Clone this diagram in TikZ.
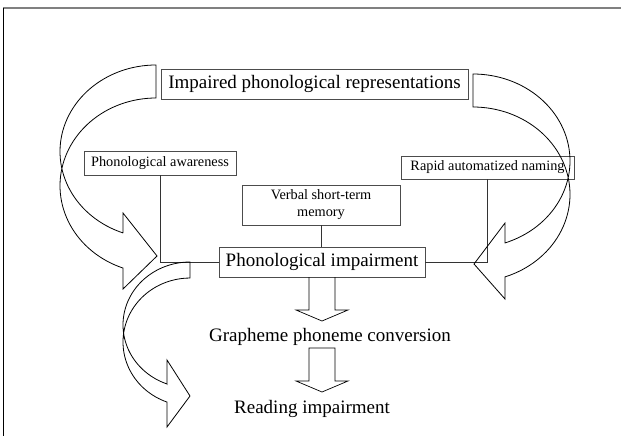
\documentclass[tikz,border=0pt]{standalone}
\usepackage{fontspec}
\setmainfont{Liberation Serif}
\begin{document}
\begin{tikzpicture}[x=1pt,y=-1pt,
  box/.style={draw=black!70, line width=0.7pt, inner sep=0pt, align=center},
  bigf/.style={font=\fontsize{19}{22}\selectfont},
  smallf/.style={font=\fontsize{14.3}{17}\selectfont},
  conn/.style={draw=black!80, line width=0.7pt},
  bigarrow/.style={draw=black, line width=0.8pt, line join=miter},
  blockarrow/.style={draw=black, line width=0.7pt}]
\useasboundingbox (0,0) rectangle (621,436);
% frame
\draw[gray, line width=1.5pt] (3,8) -- (621,8);
\draw[black, line width=0.8pt] (3,8) -- (3,436);
% nodes
\node[box, bigf, minimum width=307pt, minimum height=30pt] (IPR) at (314.5,84) {Impaired phonological representations};
\node[box, smallf, minimum width=152pt, minimum height=24pt] (PA) at (160,163) {Phonological awareness};
\node[box, smallf, minimum width=173pt, minimum height=23pt] (RAN) at (487.5,167.5) {Rapid automatized naming};
\node[box, smallf, minimum width=158pt, minimum height=40pt] (VSTM) at (321,205) {Verbal short-term\\memory};
\node[box, bigf, minimum width=206pt, minimum height=30pt] (PI) at (322,262) {Phonological impairment};
\node[bigf, anchor=base] (GPC) at (330,341) {Grapheme phoneme conversion};
\node[bigf, anchor=base] (RI) at (312,413) {Reading impairment};
% connectors
\draw[conn] (PA.south) |- (PI.west);
\draw[conn] (VSTM.south) -- (VSTM.south |- PI.north);
\draw[conn] (RAN.south) |- (PI.east);
% block arrows
\draw[blockarrow] (309,277) -- (309,310) -- (296,310) -- (322,321) -- (348,310) -- (335,310) -- (335,277);
\draw[blockarrow] (309,348) -- (309,381) -- (296,381) -- (322,392) -- (348,381) -- (335,381) -- (335,348) -- cycle;
% left curved arrow
\draw[bigarrow] (123,233)
  -- plot[domain=110.1:270, samples=60] ({156+96*cos(\x)},{151.6+86.6*sin(\x)})
  -- plot[domain=-270:-110.1, samples=60] ({156+96*cos(-\x)},{185.7+87.7*sin(-\x)})
  -- (123,289) -- (157,256) -- (123,213) -- cycle;
% right curved arrow
\draw[bigarrow] plot[domain=-90:70.7, samples=60] ({473+97*cos(\x)},{160.9+86.9*sin(\x)})
  -- (505,223) -- (474,264) -- (505,299)
  -- plot[domain=-70.7:90, samples=60] ({473+97*cos(-\x)},{194.4+87.4*sin(-\x)})
  -- cycle;
% bottom curved arrow
\draw[bigarrow] (167,384)
  -- plot[domain=110.1:270, samples=60] ({190+67*cos(\x)},{324.9+62.9*sin(\x)})
  -- plot[domain=-270:-110.1, samples=60] ({190+67*cos(-\x)},{342+63.95*sin(-\x)})
  -- (167,427) -- (190,396) -- (167,360) -- cycle;
\end{tikzpicture}
\end{document}
